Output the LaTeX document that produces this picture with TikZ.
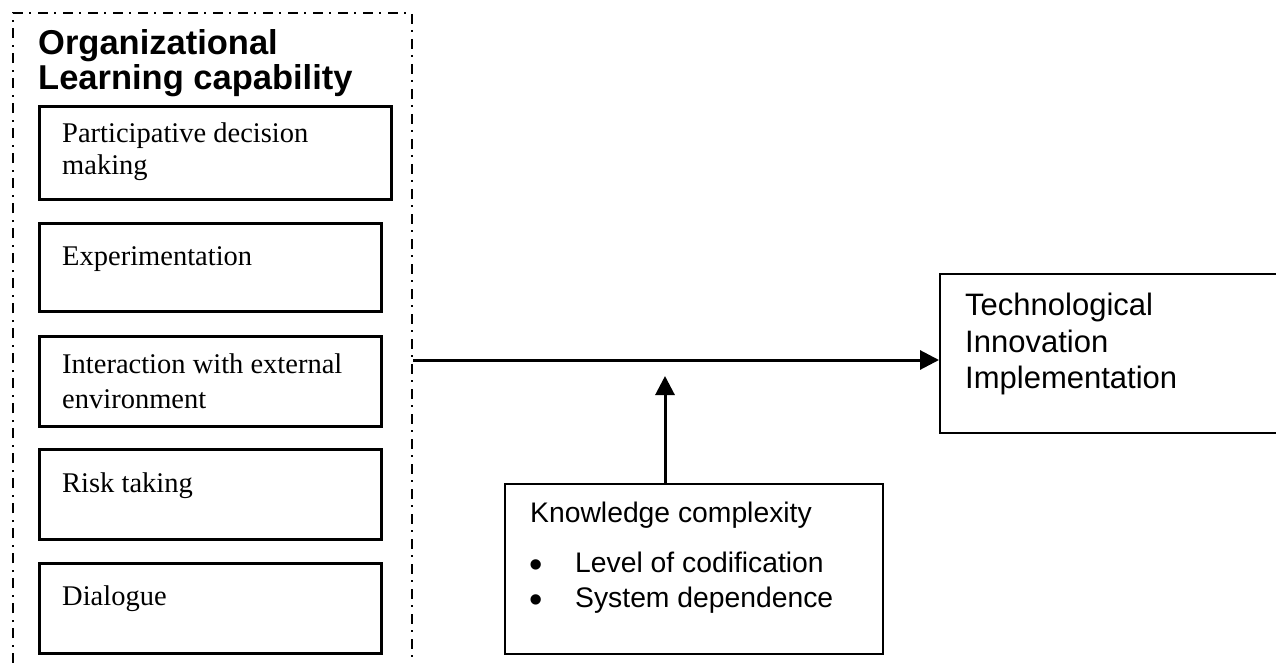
\documentclass[tikz,border=0pt]{standalone}
\usepackage{fontspec}
\setmainfont{Liberation Serif}
\newfontfamily\arialfont{Liberation Sans}
\usetikzlibrary{arrows.meta,calc}
\newcommand{\bigbul}{\makebox[46pt][l]{\fontsize{38}{38}\selectfont\raisebox{-5.5pt}{•}}}
\begin{document}
\begin{tikzpicture}[x=1pt,y=-1pt,
  ddot/.style={line width=2pt,dash pattern=on 10pt off 6pt on 2pt off 7pt},
  lbox/.style={draw,line width=3pt,inner sep=0pt,anchor=north west},
  rbox/.style={draw,line width=2.2pt,inner sep=0pt,anchor=north west},
  serif/.style={anchor=base west,inner sep=0pt,font=\fontsize{28.5}{34}\selectfont},
  ttl/.style={anchor=base west,inner sep=0pt,font=\arialfont\bfseries\fontsize{34.5}{40}\selectfont},
  techtxt/.style={anchor=base west,inner sep=0pt,font=\arialfont\fontsize{31}{36}\selectfont},
  kctxt/.style={anchor=base west,inner sep=0pt,font=\arialfont\fontsize{28.3}{34}\selectfont},
  conn/.style={line width=3pt,-{Triangle[length=19pt,width=19pt]}}
]
\useasboundingbox (0,0) rectangle (1276,663);
% outer dash-dot frame
\draw[ddot] (13,663) -- (13,13) -- (412,13) -- (412,663);
% title
\node[ttl] (t1) at (38,55) {Organizational};
\node[ttl] (t2) at (38,90) {Learning capability};
% left boxes
\node[lbox,minimum width=352pt,minimum height=93pt] (b1) at (38,105) {};
\node[serif] (b1a) at (62,143) {Participative decision};
\node[serif] (b1b) at (62,175) {making};
\node[lbox,minimum width=342pt,minimum height=88pt] (b2) at (38,222) {};
\node[serif] (b2a) at (62,265) {Experimentation};
\node[lbox,minimum width=342pt,minimum height=90pt] (b3) at (38,335) {};
\node[serif] (b3a) at (62,373) {Interaction with external};
\node[serif] (b3b) at (62,408) {environment};
\node[lbox,minimum width=342pt,minimum height=90pt] (b4) at (38,448) {};
\node[serif] (b4a) at (62,492) {Risk taking};
\node[lbox,minimum width=342pt,minimum height=90pt] (b5) at (38,562) {};
\node[serif] (b5a) at (62,605) {Dialogue};
% technological innovation box
\node[rbox,minimum width=338pt,minimum height=159pt] (tech) at (939,273) {};
\node[techtxt] (te1) at (965,315) {Technological};
\node[techtxt] (te2) at (965,352) {Innovation};
\node[techtxt] (te3) at (965,388) {Implementation};
% knowledge complexity box
\node[rbox,minimum width=378pt,minimum height=170pt] (kc) at (504,483) {};
\node[kctxt] (kc0) at (530,522) {Knowledge complexity};
\node[kctxt] (kc1) at (529,572) {\bigbul Level of codification};
\node[kctxt] (kc2) at (529,607) {\bigbul System dependence};
% connectors
\coordinate (start) at (413,360);
\coordinate (tip) at (665,376);
\draw[conn] (start) -- (start -| tech.west);
\draw[conn] (tip |- kc.north) -- (tip);
\end{tikzpicture}
\end{document}
